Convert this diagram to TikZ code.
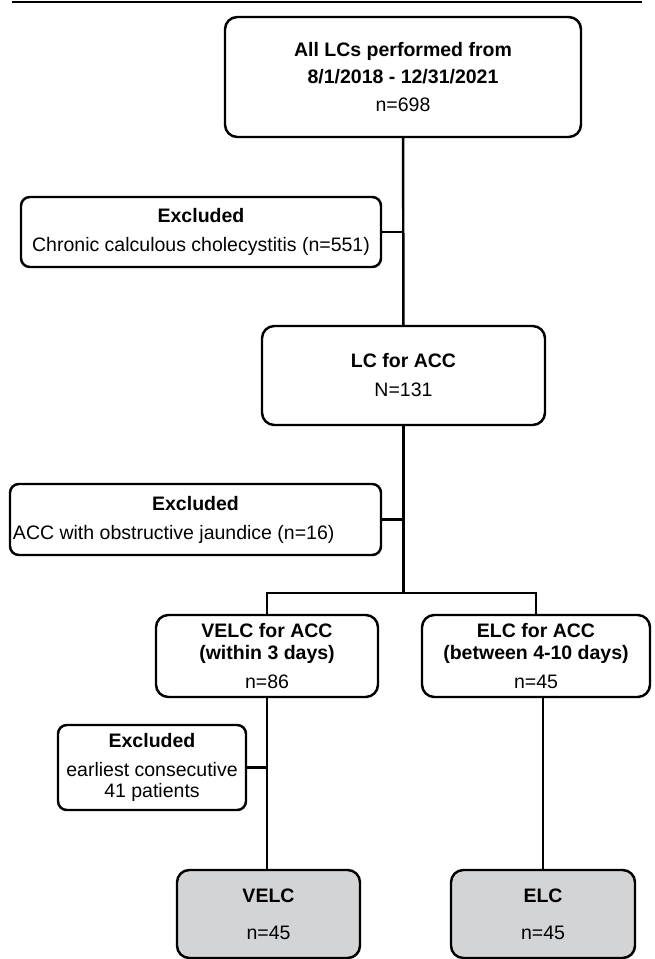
\documentclass[tikz,border=0pt]{standalone}
\usepackage{fontspec}
\setmainfont{Liberation Sans}
\usepackage{tikz}
\usetikzlibrary{positioning}
\usetikzlibrary{calc}
\definecolor{endgray}{RGB}{211,212,214}
\tikzset{
box/.style={
  rectangle,
  rounded corners=7pt,
  inner sep=0pt,
  align=center,
  line width=1.4pt,
  draw=black,
  fill=white,
  font=\fontsize{11.1}{12}\selectfont
  },
exbox/.style={
  box,
  rounded corners=5pt
  },
endbox/.style={
  box,
  fill=endgray
  }
}

\begin{document}
\begin{tikzpicture}[line width=1.4pt]
        \useasboundingbox (0,0) rectangle (13.08,-19.18);
        \draw[line width=1pt] (0.24,-0.04) -- (12.84,-0.04);
        \node[box,minimum width=7.12cm,minimum height=2.4cm] at (8.06,-1.54) (all) {\textbf{All LCs performed from}\\[3.9pt]\textbf{8/1/2018 - 12/31/2021}\\[3.9pt]n=698};
        \node[exbox,minimum width=7.2cm,minimum height=1.4cm] at (4.02,-4.64) (exa) {\textbf{Excluded}\\[5pt]Chronic calculous cholecystitis (n=551)};
        \node[box,minimum width=5.66cm,minimum height=1.98cm] at (8.07,-7.51) (acc) {\textbf{LC for ACC}\\[4.5pt]N=131};
        \node[exbox,minimum width=7.42cm,minimum height=1.42cm] at (3.91,-10.39) (exb) {\textbf{Excluded}\\[4.5pt]\makebox[7.3cm][l]{ACC with obstructive jaundice (n=16)}};
        \node[box,minimum width=4.44cm,minimum height=1.64cm] at (5.34,-13.12) (velc) {\textbf{VELC for ACC}\\\textbf{(within 3 days)}\\[4.5pt]n=86};
        \node[box,minimum width=4.56cm,minimum height=1.64cm] at (10.72,-13.12) (elc) {\textbf{ELC for ACC}\\\textbf{(between 4-10 days)}\\[4.5pt]n=45};
        \node[exbox,minimum width=3.76cm,minimum height=1.7cm] at (3.04,-15.35) (exc) {\textbf{Excluded}\\[4.5pt]earliest consecutive\\41 patients};
        \node[endbox,minimum width=3.66cm,minimum height=1.76cm] at (5.37,-18.28) (velcf) {\textbf{VELC}\\[9pt]n=45};
        \node[endbox,minimum width=3.68cm,minimum height=1.76cm] at (10.86,-18.28) (elcf) {\textbf{ELC}\\[9pt]n=45};
        \coordinate (split) at (8.07,-11.86);
        \path[draw]
        (all) edge [] (acc)
        (exa.east) edge [] (exa.east -| all.south)
        (acc.south) edge [] (split)
        (exb.east) edge [] (exb.east -| acc.south)
        (velc.south) edge [] (velc.south |- velcf.north)
        (exc.east) edge [] (exc.east -| velc.south)
        (elcf.north) edge [line width=0.9pt] (elcf.north |- elc.south)
        ;
        \draw (velc.north) |- (split) -| (elc.north);
    \end{tikzpicture}
\end{document}
